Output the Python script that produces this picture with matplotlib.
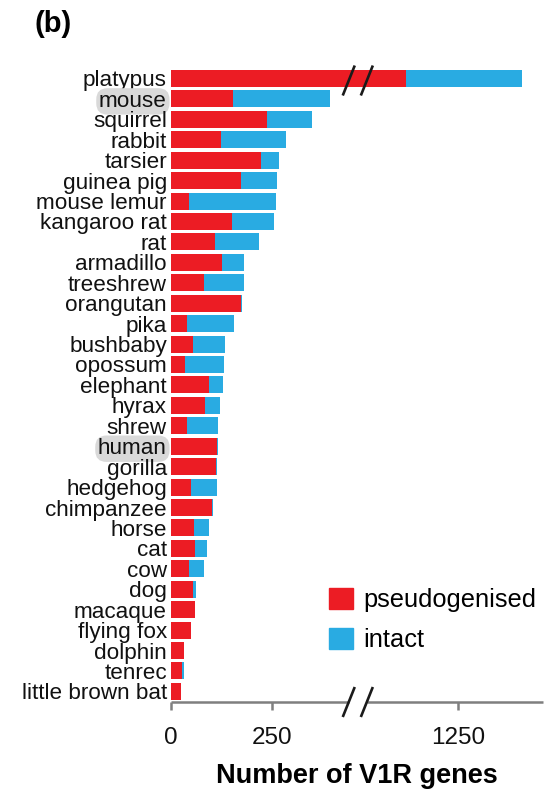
import numpy as np
import matplotlib
matplotlib.use("Agg")
import matplotlib.pyplot as plt
from matplotlib.lines import Line2D
from matplotlib.patches import Patch

plt.rcParams['font.family'] = ['Liberation Sans', 'DejaVu Sans']

species = ["platypus", "mouse", "squirrel", "rabbit", "tarsier", "guinea pig",
           "mouse lemur", "kangaroo rat", "rat", "armadillo", "treeshrew",
           "orangutan", "pika", "bushbaby", "opossum", "elephant", "hyrax",
           "shrew", "human", "gorilla", "hedgehog", "chimpanzee", "horse",
           "cat", "cow", "dog", "macaque", "flying fox", "dolphin", "tenrec",
           "little brown bat"]
pseudogenised = [1123, 153, 237, 124, 224, 173, 45, 152, 110, 127, 82, 173, 40,
                 54, 34, 95, 84, 39, 113, 111, 50, 102, 57, 60, 44, 54, 59, 50,
                 33, 26, 24]
intact = [285, 241, 111, 160, 43, 90, 215, 103, 109, 54, 99, 4, 116, 79, 96,
          33, 37, 78, 3, 3, 64, 3, 36, 29, 38, 8, 0, 0, 0, 6, 0]
highlighted = ["mouse", "human"]
xticks = [0, 250, 1250]

RED = "#EC1C24"
BLUE = "#29ABE2"
GREY = "#7f7f7f"

# broken x axis: linear up to B1, compressed gap, then shifted linear part
B1, B2, SHIFT = 440.0, 1025.0, 540.0
U2 = B2 - SHIFT


def fwd(x):
    x = np.asarray(x, dtype=float)
    mid = B1 + (x - B1) * (U2 - B1) / (B2 - B1)
    return np.where(x <= B1, x, np.where(x >= B2, x - SHIFT, mid))


def inv(u):
    u = np.asarray(u, dtype=float)
    mid = B1 + (u - B1) * (B2 - B1) / (U2 - B1)
    return np.where(u <= B1, u, np.where(u >= U2, u + SHIFT, mid))


W, H = 546, 789
fig = plt.figure(figsize=(W / 100, H / 100), dpi=100)
ax = fig.add_axes([171 / W, 1 - 702 / H, (543 - 171) / W, (702 - 66) / H])
ax.set_xscale('function', functions=(fwd, inv))

y = np.arange(len(species))
ax.barh(y, pseudogenised, height=0.83, color=RED, linewidth=0)
ax.barh(y, intact, left=pseudogenised, height=0.83, color=BLUE, linewidth=0)

ax.set_ylim(30.52, -0.61)
ax.set_xlim(0, float(inv(921)))

for s in ax.spines.values():
    s.set_visible(False)

# axis line with a gap at the break
xt = ax.get_xaxis_transform()
ax.add_line(Line2D([0, B1], [0, 0], transform=xt, color=GREY, lw=1.8,
                   clip_on=False, solid_capstyle='butt'))
ax.add_line(Line2D([B2 - 2, ax.get_xlim()[1]], [0, 0], transform=xt, color=GREY,
                   lw=1.8, clip_on=False, solid_capstyle='butt'))

ax.set_xticks(xticks)
ax.set_xticklabels([str(v) for v in xticks])
ax.tick_params(axis='x', length=6, width=1.8, color=GREY, pad=12,
               labelsize=17.5, labelcolor='#111111')
ax.set_yticks(y)
ax.set_yticklabels(species)
ax.tick_params(axis='y', length=0, pad=3, labelsize=16.2, labelcolor='#111111')

for lab in ax.get_yticklabels():
    if lab.get_text() in highlighted:
        lab.set_bbox(dict(boxstyle='round,pad=0.12,rounding_size=0.5',
                          fc='#d9d9d9', ec='none'))

ax.set_xlabel("Number of V1R genes", fontsize=19.5, fontweight='bold',
              labelpad=10)

# break marks: on the platypus bar and on the axis line
fig.canvas.draw()
to_fig = fig.transFigure.inverted()


def slash(xd, yd, axes_y=False):
    tr = xt if axes_y else ax.transData
    px, py = tr.transform((xd, yd))
    p0 = to_fig.transform((px - 6, py - 15))
    p1 = to_fig.transform((px + 6, py + 15))
    fig.add_artist(Line2D([p0[0], p1[0]], [p0[1], p1[1]], color='#1a1a1a',
                          lw=1.9, solid_capstyle='butt'))


for xb in (B1 + 1, B2 - 2):
    slash(xb, 0.1)
    slash(xb, 0.0, axes_y=True)

handles = [Patch(color=RED, label="pseudogenised"),
           Patch(color=BLUE, label="intact")]
fig.legend(handles=handles, loc='upper left',
           bbox_to_anchor=(329 / W, 1 - 588 / H), frameon=False,
           fontsize=18.3, handlelength=0.96, handleheight=0.9,
           handletextpad=0.4, labelspacing=0.6, borderpad=0, borderaxespad=0)

fig.text(35 / W, 1 - 24 / H, "(b)", fontsize=21, fontweight='bold',
         va='center', ha='left')

fig.savefig("out.png", dpi=100)
